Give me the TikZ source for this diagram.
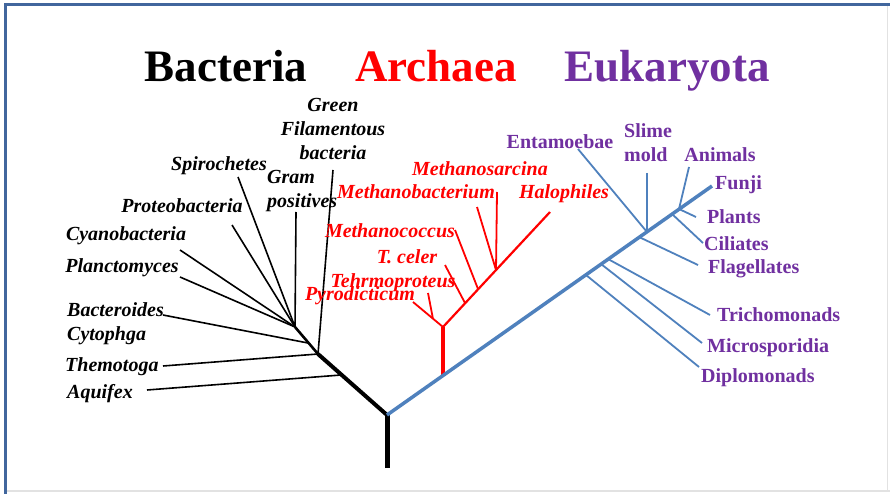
\documentclass[tikz,border=0pt]{standalone}
\usepackage{fontspec}
\setmainfont{Liberation Serif}
\usepackage{tikz}
\definecolor{fundo}{HTML}{FFFFFF}
\definecolor{moldura}{HTML}{41669D}
\definecolor{sombra}{HTML}{E2E2E2}
\definecolor{vermelho}{HTML}{FF0000}
\definecolor{azul}{HTML}{4F81BD}
\definecolor{roxo}{HTML}{7030A0}

\begin{document}
\begin{tikzpicture}[x=1pt,y=-1pt, font=\fontsize{20}{24}\selectfont,
    tit/.style={font=\fontsize{45}{50}\selectfont\bfseries, anchor=base, inner sep=0pt},
    bac/.style={font=\fontsize{20}{24}\selectfont\bfseries\itshape, text=black, inner sep=0pt, text height=1.1em, text depth=0em},
    bacm/.style={font=\fontsize{20}{24}\selectfont\bfseries\itshape, text=black, inner sep=0pt},
    arq/.style={bac, text=vermelho},
    euc/.style={font=\fontsize{20}{24}\selectfont\bfseries, text=roxo, inner sep=0pt, text height=1.1em, text depth=0em},
    eucm/.style={font=\fontsize{20}{24}\selectfont\bfseries, text=roxo, inner sep=0pt},
    rb/.style={line width=1.6pt, black},
    rr/.style={line width=1.8pt, vermelho},
    ra/.style={line width=1.8pt, azul}]
  \useasboundingbox (0,0) rectangle (890,494);
  \fill[fundo] (0,0) rectangle (890,494);
  \draw[sombra, line width=1.5pt] (6,491) -- (890,491);
  \draw[sombra, line width=1pt] (887,6) -- (887,491);
  \draw[moldura, line width=3pt] (5,494) -- (5,5) -- (890,5);

  \node[tit] (titb) at (226,82) {Bacteria};
  \node[tit, text=vermelho] (tita) at (436,82) {Archaea};
  \node[tit, text=roxo] (tite) at (667,82) {Eukaryota};

  \coordinate (raiz) at (387,468);
  \coordinate (j0) at (387,415);
  \coordinate (b1) at (318,354);
  \coordinate (b2) at (295,327);
  \coordinate (b3) at (341,375);
  \coordinate (b4) at (308,343);
  \coordinate (aq) at (147,390);
  \coordinate (th) at (163,366);
  \coordinate (bc) at (163,315);
  \coordinate (pl) at (180,277);
  \coordinate (cy) at (180,250);
  \coordinate (pr) at (232,225);
  \coordinate (sp) at (238,177);
  \coordinate (gp) at (296,212);
  \coordinate (gf) at (333,170);

  \coordinate (r0) at (443,376);
  \coordinate (r1) at (443,327);
  \coordinate (r2) at (433,319);
  \coordinate (r3) at (465,303);
  \coordinate (r4) at (478,289);
  \coordinate (r5) at (496,270);
  \coordinate (py) at (413,302);
  \coordinate (te) at (428,293);
  \coordinate (tc) at (445,265);
  \coordinate (mc) at (455,230);
  \coordinate (mb) at (477,207);
  \coordinate (ms) at (497,192);
  \coordinate (ha) at (550,212);

  \coordinate (fu) at (712,186);
  \coordinate (e1) at (586,275);
  \coordinate (e2) at (601,264);
  \coordinate (e3) at (608,259);
  \coordinate (e4) at (639,237);
  \coordinate (e5) at (647,232);
  \coordinate (e6) at (672,214);
  \coordinate (e7) at (679,209);
  \coordinate (di) at (699,367);
  \coordinate (mi) at (702,343);
  \coordinate (tr) at (710,315);
  \coordinate (fl) at (698,265);
  \coordinate (en) at (578,149);
  \coordinate (sl) at (647,173);
  \coordinate (ci) at (703,243);
  \coordinate (pa) at (696,217);
  \coordinate (an) at (689,167);

  \foreach \a/\b in {aq/b3,th/b1,bc/b4,pl/b2,cy/b2,pr/b2,sp/b2,gp/b2,gf/b1}{\draw[rb] (\a) -- (\b);}
  \draw[line width=2.6pt] (b1) -- (b2);
  \draw[line width=4pt] (j0) -- (b1);
  \draw[line width=5pt] (raiz) -- (j0);

  \foreach \a/\b in {te/r2,tc/r3,mc/r4,mb/r5,ms/r5,py/r1}{\draw[rr] (\a) -- (\b);}
  \draw[rr, line width=2.2pt] (r1) -- (ha);
  \draw[rr, line width=4pt] (r0) -- (r1);

  \foreach \a/\b in {di/e1,mi/e2,tr/e3,fl/e4,en/e5,sl/e5,ci/e6,pa/e7,an/e7}{\draw[ra] (\a) -- (\b);}
  \draw[ra, line width=3.5pt] (j0) -- (fu);

  \node[bacm, align=center, anchor=north] (lgf) at (333,98) {Green\\Filamentous\\bacteria};
  \node[bac] (lsp) at (219,165) {Spirochetes};
  \node[bacm, align=left, anchor=north west] (lgp) at (267,170) {Gram\\positives};
  \node[bac] (lpr) at (182,207) {Proteobacteria};
  \node[bac] (lcy) at (126,235) {Cyanobacteria};
  \node[bac] (lpl) at (122,267) {Planctomyces};
  \node[bacm, align=left, anchor=north west] (lbc) at (67,302) {Bacteroides\\Cytophga};
  \node[bac, anchor=west] (lth) at (65,366) {Themotoga};
  \node[bac, anchor=west] (laq) at (67,393) {Aquifex};

  \node[arq] (lms) at (480,170) {Methanosarcina};
  \node[arq] (lmb) at (416,193) {Methanobacterium};
  \node[arq] (lha) at (564,193) {Halophiles};
  \node[arq] (lmc) at (390,232) {Methanococcus};
  \node[arq] (ltc) at (407,258) {T. celer};
  \node[arq] (lte) at (393,282) {Tehrmoproteus};
  \node[arq] (lpy) at (360,295) {Pyrodicticum};

  \node[euc] (len) at (560,143) {Entamoebae};
  \node[eucm, align=left, anchor=north west] (lsl) at (624,123) {Slime\\mold};
  \node[euc] (lan) at (720,156) {Animals};
  \node[euc, anchor=west] (lfu) at (715,184) {Funji};
  \node[euc, anchor=west] (lpa) at (707,218) {Plants};
  \node[euc, anchor=west] (lci) at (704,245) {Ciliates};
  \node[euc, anchor=west] (lfl) at (708,268) {Flagellates};
  \node[euc, anchor=west] (ltr) at (717,316) {Trichomonads};
  \node[euc, anchor=west] (lmi) at (707,347) {Microsporidia};
  \node[euc, anchor=west] (ldi) at (701,377) {Diplomonads};
\end{tikzpicture}
\end{document}
